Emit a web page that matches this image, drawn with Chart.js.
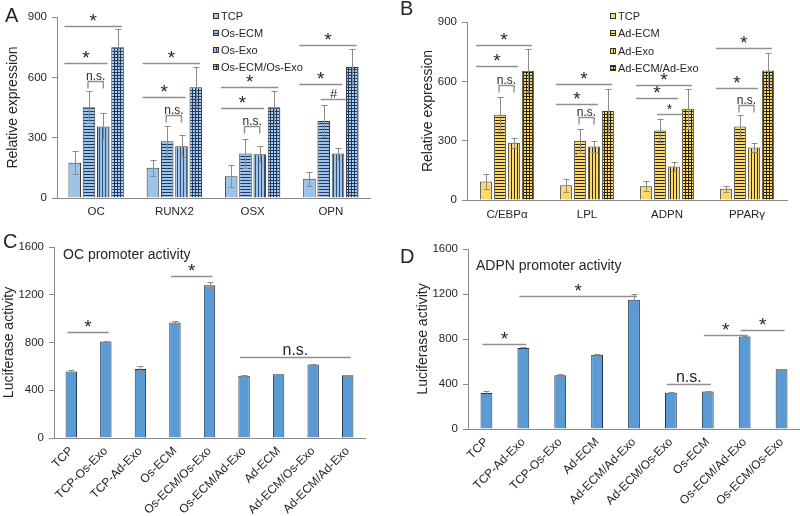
<!DOCTYPE html>
<html>
<head>
<meta charset="utf-8">
<script src="https://cdn.jsdelivr.net/npm/chart.js@4.4.1/dist/chart.umd.min.js"></script>
<style>
  body { margin: 0; background: #fff; width: 800px; height: 516px; position: relative; overflow: hidden; }
  canvas { position: absolute; }
</style>
</head>
<body>
<canvas id="chartA" width="400" height="220" style="left:0;top:0"></canvas>
<canvas id="chartB" width="400" height="220" style="left:400px;top:0"></canvas>
<canvas id="chartC" width="400" height="296" style="left:0;top:220px"></canvas>
<canvas id="chartD" width="400" height="296" style="left:400px;top:220px"></canvas>
<script>
// Panel A - osteogenic genes
const geneLabelsA = ['OC', 'RUNX2', 'OSX', 'OPN'];
const groupNamesA = ['TCP', 'Os-ECM', 'Os-Exo', 'Os-ECM/Os-Exo'];
const tcpA = [175, 151, 108, 96];
const tcpErrA = [58, 40, 55, 34];
const osEcmA = [451, 282, 221, 383];
const osEcmErrA = [80, 78, 70, 78];
const osExoA = [356, 257, 218, 221];
const osExoErrA = [65, 54, 43, 30];
const comboA = [749, 551, 451, 651];
const comboErrA = [90, 100, 83, 89];

// Panel B - adipogenic genes
const geneLabelsB = ['C/EBPα', 'LPL', 'ADPN', 'PPARγ'];
const groupNamesB = ['TCP', 'Ad-ECM', 'Ad-Exo', 'Ad-ECM/Ad-Exo'];
const tcpB = [94, 74, 69, 57];
const tcpErrB = [36, 34, 25, 16];
const adEcmB = [431, 300, 351, 371];
const adEcmErrB = [90, 60, 60, 61];
const adExoB = [290, 271, 169, 265];
const adExoErrB = [25, 27, 21, 24];
const comboB = [654, 450, 461, 655];
const comboErrB = [110, 112, 100, 90];

// Panel C - OC promoter
const promoterLabelsC = ['TCP', 'TCP-Os-Exo', 'TCP-Ad-Exo', 'Os-ECM', 'Os-ECM/Os-Exo',
  'Os-ECM/Ad-Exo', 'Ad-ECM', 'Ad-ECM/Os-Exo', 'Ad-ECM/Ad-Exo'];
const ocActivity = [557, 809, 578, 968, 1280, 521, 533, 616, 526];
const ocActivityErr = [12, 5, 22, 14, 25, 5, 6, 7, 5];

// Panel D - ADPN promoter
const promoterLabelsD = ['TCP', 'TCP-Ad-Exo', 'TCP-Os-Exo', 'Ad-ECM', 'Ad-ECM/Ad-Exo',
  'Ad-ECM/Os-Exo', 'Os-ECM', 'Os-ECM/Ad-Exo', 'Os-ECM/Os-Exo'];
const adpnActivity = [321, 720, 477, 660, 1150, 323, 334, 822, 532];
const adpnActivityErr = [15, 6, 8, 10, 52, 6, 6, 6, 4];

// significance marks: y is in data units
const marksA = [
  { cat: 0, a: 0, b: 3, y: 855, text: '*', kind: 'span' },
  { cat: 0, a: 0, b: 2, y: 670, text: '*', kind: 'span' },
  { cat: 0, a: 1, b: 2, y: 582, text: 'n.s.', kind: 'bracket' },
  { cat: 1, a: 0, b: 3, y: 670, text: '*', kind: 'span' },
  { cat: 1, a: 0, b: 2, y: 500, text: '*', kind: 'span' },
  { cat: 1, a: 1, b: 2, y: 413, text: 'n.s.', kind: 'bracket' },
  { cat: 2, a: 0, b: 3, y: 551, text: '*', kind: 'span' },
  { cat: 2, a: 0, b: 2, y: 446, text: '*', kind: 'span' },
  { cat: 2, a: 1, b: 2, y: 358, text: 'n.s.', kind: 'bracket' },
  { cat: 3, a: 0, b: 3, y: 762, text: '*', kind: 'span' },
  { cat: 3, a: 0, b: 2, y: 566, text: '*', kind: 'span' },
  { cat: 3, a: 1, b: 2, y: 491, text: '#', kind: 'pair' }
];
const marksB = [
  { cat: 0, a: 0, b: 3, y: 783, text: '*', kind: 'span' },
  { cat: 0, a: 0, b: 2, y: 677, text: '*', kind: 'span' },
  { cat: 0, a: 1, b: 2, y: 580, text: 'n.s.', kind: 'bracket' },
  { cat: 1, a: 0, b: 3, y: 585, text: '*', kind: 'span' },
  { cat: 1, a: 0, b: 2, y: 485, text: '*', kind: 'span' },
  { cat: 1, a: 1, b: 2, y: 420, text: 'n.s.', kind: 'bracket' },
  { cat: 2, a: 0, b: 3, y: 580, text: '*', kind: 'span' },
  { cat: 2, a: 0, b: 2, y: 515, text: '*', kind: 'span' },
  { cat: 2, a: 1, b: 2, y: 433, text: '*', kind: 'pair', small: true },
  { cat: 3, a: 0, b: 3, y: 767, text: '*', kind: 'span' },
  { cat: 3, a: 0, b: 2, y: 565, text: '*', kind: 'span' },
  { cat: 3, a: 1, b: 2, y: 480, text: 'n.s.', kind: 'bracket' }
];
const marksC = [
  { a: 0, b: 1, y: 885, text: '*', kind: 'single' },
  { a: 3, b: 4, y: 1359, text: '*', kind: 'single' },
  { a: 5, b: 8, y: 677, text: 'n.s.', kind: 'single', big: true }
];
const marksD = [
  { a: 0, b: 1, y: 755, text: '*', kind: 'single' },
  { a: 1, b: 4, y: 1185, text: '*', kind: 'single' },
  { a: 5, b: 6, y: 403, text: 'n.s.', kind: 'single', big: true },
  { a: 6, b: 7, y: 832, text: '*', kind: 'single' },
  { a: 7, b: 8, y: 883, text: '*', kind: 'single' }
];

const FONT = '"Liberation Sans", Arial, sans-serif';
const AXIS = '#8a8a8a';
const INK = '#262626';

function makePattern(kind, base, ink) {
  const c = document.createElement('canvas');
  c.width = 3; c.height = 3;
  const g = c.getContext('2d');
  g.fillStyle = base;
  g.fillRect(0, 0, 3, 3);
  g.fillStyle = ink;
  if (kind === 'h' || kind === 'grid') g.fillRect(0, 0, 3, 1);
  if (kind === 'v' || kind === 'grid') g.fillRect(0, 0, 1, 3);
  return g.createPattern(c, 'repeat');
}

const blueFills = [
  '#9dc3e6',
  makePattern('h', '#9dc3e6', '#1f3864'),
  makePattern('v', '#9dc3e6', '#2f4f7a'),
  makePattern('grid', '#a9d0ef', '#1f3864')
];
const yellowFills = [
  '#ffd966',
  makePattern('h', '#ffd966', '#2b2200'),
  makePattern('v', '#ffd966', '#3a2e00'),
  makePattern('grid', '#ffd966', '#2b2200')
];

// error bars read from dataset.errorBars
const errorBarPlugin = {
  id: 'errorBars',
  afterDatasetsDraw(chart) {
    const ctx = chart.ctx;
    const y = chart.scales.y;
    chart.data.datasets.forEach((ds, di) => {
      if (!ds.errorBars) return;
      const meta = chart.getDatasetMeta(di);
      ctx.save();
      ctx.strokeStyle = '#8c8c8c';
      ctx.lineWidth = 1;
      meta.data.forEach((bar, i) => {
        const v = ds.data[i], e = ds.errorBars[i];
        const top = Math.round(y.getPixelForValue(v + e)) + 0.5;
        const bot = Math.round(y.getPixelForValue(v - e)) + 0.5;
        const x = Math.round(bar.x) + 0.5;
        ctx.beginPath();
        ctx.moveTo(x, top); ctx.lineTo(x, bot);
        ctx.moveTo(x - 3, top); ctx.lineTo(x + 3, top);
        ctx.moveTo(x - 3, bot); ctx.lineTo(x + 3, bot);
        ctx.stroke();
      });
      ctx.restore();
    });
  }
};

function barAt(chart, m, idx) {
  if (m.cat === undefined) return chart.getDatasetMeta(0).data[idx];
  return chart.getDatasetMeta(idx).data[m.cat];
}

// letters, titles, legends and significance marks
const extrasPlugin = {
  id: 'extras',
  afterDraw(chart, args, opts) {
    const ctx = chart.ctx;
    const y = chart.scales.y;
    ctx.save();
    ctx.fillStyle = INK;
    ctx.font = '20px ' + FONT;
    ctx.textAlign = 'left';
    ctx.textBaseline = 'alphabetic';
    ctx.fillText(opts.letter, opts.letterX, opts.letterY);

    if (opts.title) {
      ctx.font = '14px ' + FONT;
      ctx.fillText(opts.title, opts.titleX, opts.titleY);
    }

    if (opts.legend) {
      ctx.font = '11px ' + FONT;
      ctx.textBaseline = 'middle';
      opts.legend.names.forEach((name, i) => {
        const cy = opts.legend.rows[i];
        ctx.fillStyle = opts.legend.fills[i];
        ctx.fillRect(opts.legend.x, cy - 3, 6, 6);
        ctx.strokeStyle = '#333';
        ctx.lineWidth = 1;
        ctx.strokeRect(opts.legend.x + 0.5, cy - 2.5, 5, 5);
        ctx.fillStyle = INK;
        ctx.fillText(name, opts.legend.x + 8, cy + 0.5);
      });
    }

    ctx.textAlign = 'center';
    ctx.textBaseline = 'alphabetic';
    (opts.marks || []).forEach(m => {
      const b0 = barAt(chart, m, m.a), b1 = barAt(chart, m, m.b);
      let x0, x1;
      if (m.kind === 'span') { x0 = b0.x - b0.width / 2 - 4; x1 = b1.x + b1.width / 2 - 2; }
      else if (m.kind === 'bracket') { x0 = b0.x - 1; x1 = b1.x; }
      else if (m.kind === 'pair') { x0 = b0.x - 3; x1 = b1.x + b1.width / 2 + 2; }
      else { x0 = b0.x - 4; x1 = b1.x + 3; }
      const ly = Math.round(y.getPixelForValue(m.y)) + 0.5;
      ctx.strokeStyle = '#8f8f8f';
      ctx.lineWidth = 1.4;
      ctx.beginPath();
      if (m.kind === 'bracket') {
        ctx.moveTo(x0, ly + 7); ctx.lineTo(x0, ly); ctx.lineTo(x1, ly); ctx.lineTo(x1, ly + 7);
      } else {
        ctx.moveTo(x0, ly); ctx.lineTo(x1, ly);
      }
      ctx.stroke();
      const cx = (x0 + x1) / 2;
      ctx.fillStyle = INK;
      if (m.text === '*') {
        ctx.font = (m.small ? 14 : 19) + 'px ' + FONT;
        ctx.fillText('*', cx, ly + (m.small ? -1 : 0));
      } else if (m.text === '#') {
        ctx.font = '13px ' + FONT;
        ctx.fillText('#', cx, ly - 2);
      } else {
        ctx.font = (m.big ? 16 : 12) + 'px ' + FONT;
        ctx.fillText(m.text, cx, ly - (m.big ? 3 : 2));
      }
    });
    ctx.restore();
  }
};

function axisOptions(cfg) {
  return {
    x: {
      grid: { display: false, drawTicks: false },
      border: { color: AXIS, width: 1 },
      ticks: {
        color: INK, autoSkip: false,
        font: { family: FONT, size: cfg.xFont },
        padding: cfg.xPad,
        minRotation: cfg.rot, maxRotation: cfg.rot
      },
      afterFit: s => { s.height = cfg.xHeight; s.paddingLeft = 0; s.paddingRight = 0; }
    },
    y: {
      min: 0, max: cfg.max,
      ticks: {
        stepSize: cfg.step, color: INK, font: { family: FONT, size: 11.5 }, padding: 5,
        callback: v => String(v)
      },
      grid: { drawOnChartArea: false, drawTicks: true, tickLength: 5, color: AXIS },
      border: { color: AXIS, width: 1 },
      title: {
        display: true, text: cfg.yTitle, color: INK,
        font: { family: FONT, size: 14 },
        padding: { top: cfg.titlePad, bottom: 0 }
      },
      afterFit: s => { s.width = cfg.yWidth; }
    }
  };
}

function groupedChart(id, labels, names, series, errors, fills, cfg, extras) {
  new Chart(document.getElementById(id), {
    type: 'bar',
    data: {
      labels: labels,
      datasets: names.map((name, i) => ({
        label: name,
        data: series[i],
        errorBars: errors[i],
        backgroundColor: fills[i],
        borderColor: '#3a3a3a',
        borderWidth: 1,
        categoryPercentage: cfg.catPct,
        barPercentage: cfg.barPct
      }))
    },
    options: {
      responsive: false,
      animation: false,
      layout: { padding: { left: 0, right: cfg.padRight, top: cfg.padTop, bottom: 0 } },
      plugins: { legend: { display: false }, tooltip: { enabled: false }, extras: extras },
      scales: axisOptions(cfg)
    },
    plugins: [errorBarPlugin, extrasPlugin]
  });
}

function singleChart(id, labels, values, errors, cfg, extras) {
  new Chart(document.getElementById(id), {
    type: 'bar',
    data: {
      labels: labels,
      datasets: [{
        data: values,
        errorBars: errors,
        backgroundColor: '#5b9bd5',
        borderColor: '#22354d',
        borderWidth: 1,
        categoryPercentage: 1,
        barPercentage: cfg.barPct
      }]
    },
    options: {
      responsive: false,
      animation: false,
      layout: { padding: { left: 0, right: cfg.padRight, top: cfg.padTop, bottom: 0 } },
      plugins: { legend: { display: false }, tooltip: { enabled: false }, extras: extras },
      scales: axisOptions(cfg)
    },
    plugins: [errorBarPlugin, extrasPlugin]
  });
}

groupedChart('chartA', geneLabelsA, groupNamesA,
  [tcpA, osEcmA, osExoA, comboA], [tcpErrA, osEcmErrA, osExoErrA, comboErrA], blueFills,
  { max: 900, step: 300, yTitle: 'Relative expression', titlePad: 5, yWidth: 57,
    xHeight: 22, xFont: 11.5, xPad: 7, rot: 0, padRight: 30, padTop: 17, catPct: 0.73, barPct: 0.88 },
  { letter: 'A', letterX: 5, letterY: 22, marks: marksA,
    legend: { names: groupNamesA, fills: blueFills, x: 213, rows: [16, 33, 50, 67] } });

groupedChart('chartB', geneLabelsB, groupNamesB,
  [tcpB, adEcmB, adExoB, comboB], [tcpErrB, adEcmErrB, adExoErrB, comboErrB], yellowFills,
  { max: 900, step: 300, yTitle: 'Relative expression', titlePad: 20, yWidth: 67,
    xHeight: 20, xFont: 11.5, xPad: 8, rot: 0, padRight: 13, padTop: 22, catPct: 0.7, barPct: 0.84 },
  { letter: 'B', letterX: 0, letterY: 15, marks: marksB,
    legend: { names: groupNamesB, fills: yellowFills, x: 210, rows: [16, 33, 51, 68] } });

singleChart('chartC', promoterLabelsC, ocActivity, ocActivityErr,
  { max: 1600, step: 400, yTitle: 'Luciferase activity', titlePad: 1, yWidth: 54,
    xHeight: 78, xFont: 12, xPad: 6, rot: 45, padRight: 35, padTop: 27, barPct: 0.33 },
  { letter: 'C', letterX: 3, letterY: 28, marks: marksC,
    title: 'OC promoter activity', titleX: 63, titleY: 39 });

singleChart('chartD', promoterLabelsD, adpnActivity, adpnActivityErr,
  { max: 1600, step: 400, yTitle: 'Luciferase activity', titlePad: 15, yWidth: 68,
    xHeight: 87, xFont: 12, xPad: 6, rot: 45, padRight: 0, padTop: 29, barPct: 0.32 },
  { letter: 'D', letterX: 0, letterY: 43, marks: marksD,
    title: 'ADPN promoter activity', titleX: 76, titleY: 50 });
</script>
</body>
</html>
